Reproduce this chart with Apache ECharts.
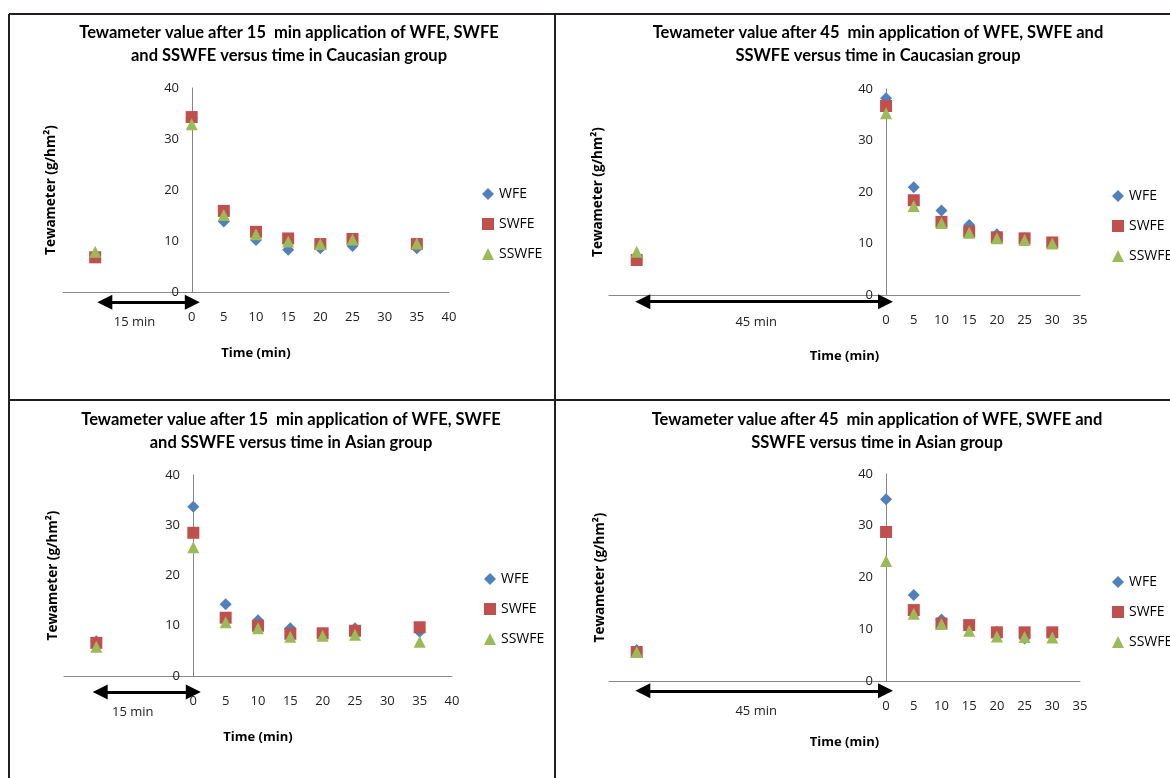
<!DOCTYPE html>
<html><head><meta charset="utf-8">
<script src="https://cdn.jsdelivr.net/npm/echarts@6/dist/echarts.min.js"></script>
<style>html,body{margin:0;padding:0;background:#fff}#c{width:1170px;height:778px}</style>
</head><body><div id="c"></div>
<script>
// ---- data ----
const seriesNames = ['WFE', 'SWFE', 'SSWFE'];
const times15 = [-15, 0, 5, 10, 15, 20, 25, 35];
const times45 = [-45, 0, 5, 10, 15, 20, 25, 30];

const cau15WFE   = [7.2, 34.0, 13.8, 10.2, 8.3, 8.6, 9.0, 8.6];
const cau15SWFE  = [6.8, 34.3, 15.9, 11.8, 10.5, 9.4, 10.4, 9.4];
const cau15SSWFE = [7.9, 32.9, 15.1, 11.3, 9.9, 9.4, 10.3, 9.5];

const cau45WFE   = [7.5, 38.2, 20.9, 16.4, 13.6, 11.8, 11.0, 10.2];
const cau45SWFE  = [6.8, 36.7, 18.4, 14.2, 12.3, 11.2, 11.0, 10.2];
const cau45SSWFE = [8.4, 35.3, 17.3, 14.0, 12.1, 11.0, 10.7, 10.0];

const asi15WFE   = [6.9, 33.7, 14.3, 11.1, 9.5, 8.3, 9.5, 8.8];
const asi15SWFE  = [6.6, 28.5, 11.6, 10.0, 8.4, 8.5, 9.0, 9.7];
const asi15SSWFE = [5.8, 25.6, 10.7, 9.5, 7.8, 8.0, 8.2, 6.8];

const asi45WFE   = [6.0, 35.1, 16.6, 11.9, 10.5, 9.5, 8.2, 8.8];
const asi45SWFE  = [5.6, 28.8, 13.7, 11.1, 10.8, 9.4, 9.4, 9.4];
const asi45SSWFE = [5.6, 23.2, 13.0, 11.0, 9.7, 8.6, 8.5, 8.4];

const titles = [
  'Tewameter value after 15  min application of WFE, SWFE\nand SSWFE versus time in Caucasian group',
  'Tewameter value after 45  min application of WFE, SWFE and\nSSWFE versus time in Caucasian group',
  'Tewameter value after 15  min application of WFE, SWFE\nand SSWFE versus time in Asian group',
  'Tewameter value after 45  min application of WFE, SWFE and\nSSWFE versus time in Asian group'
];
const durationLabels = ['15 min', '45 min', '15 min', '45 min'];
const xAxisName = 'Time (min)';
const yAxisName = 'Tewameter (g/hm\u00B2)';
const xMins = [-20, -50, -20, -50];
const xMaxs = [40, 35, 40, 35];
const yMin = 0, yMax = 40, yStep = 10, xStep = 5;

// ---- panel layout ----
const panels = [
  {times: times15, vals: [cau15WFE, cau15SWFE, cau15SSWFE],
   grid: {left: 63, top: 88, width: 386, height: 204}, titleX: 289, titleY: 21,
   yOffset: -129, yGap: 134, legend: {left: 482, top: 187},
   arrow: {from: -13.5, to: 0.1, y: -2.0, offset: [-14, 0]}},
  {times: times45, vals: [cau45WFE, cau45SWFE, cau45SSWFE],
   grid: {left: 609, top: 89, width: 471, height: 206}, titleX: 878, titleY: 21,
   yOffset: -277, yGap: 281, legend: {left: 1112, top: 189},
   arrow: {from: -43.9, to: -0.1, y: -1.3, offset: [-8, 0]}},
  {times: times15, vals: [asi15WFE, asi15SWFE, asi15SSWFE],
   grid: {left: 64, top: 475, width: 388, height: 201}, titleX: 291, titleY: 408,
   yOffset: -129, yGap: 133, legend: {left: 484, top: 572},
   arrow: {from: -14.4, to: 0.0, y: -3.2, offset: [-14, 0]}},
  {times: times45, vals: [asi45WFE, asi45SWFE, asi45SSWFE],
   grid: {left: 609, top: 474, width: 471, height: 207}, titleX: 877, titleY: 408,
   yOffset: -277, yGap: 279, legend: {left: 1112, top: 575},
   arrow: {from: -43.9, to: -0.1, y: -1.9, offset: [-8, 0]}}
];

const colors = ['#4F81BD', '#C0504D', '#9BBB59'];
const symbols = ['diamond', 'rect', 'triangle'];
const symbolSizes = [12, 12, 12];
const txt = '#222';
const baseFont = 'Open Sans';
const titleFont = 'Lato';

const option = {
  backgroundColor: '#fff',
  animation: false,
  title: [], grid: [], xAxis: [], yAxis: [], legend: [], series: [],
  graphic: [
    {type: 'line', shape: {x1: 9, y1: 14, x2: 1170, y2: 14}, style: {stroke: '#231f20', lineWidth: 2}},
    {type: 'line', shape: {x1: 9, y1: 400, x2: 1170, y2: 400}, style: {stroke: '#231f20', lineWidth: 2}},
    {type: 'line', shape: {x1: 9, y1: 14, x2: 9, y2: 778}, style: {stroke: '#231f20', lineWidth: 2}},
    {type: 'line', shape: {x1: 555, y1: 14, x2: 555, y2: 778}, style: {stroke: '#231f20', lineWidth: 2}}
  ]
};

panels.forEach((p, i) => {
  option.title.push({
    text: titles[i], left: p.titleX, top: p.titleY, textAlign: 'center', padding: 0,
    textStyle: {fontFamily: titleFont, fontWeight: 'bold', fontSize: 16.5, lineHeight: 23, color: '#000'}
  });
  option.grid.push(Object.assign({outerBoundsMode: 'none', containLabel: false}, p.grid));
  option.xAxis.push({
    type: 'value', gridIndex: i, min: xMins[i], max: xMaxs[i], interval: xStep,
    name: xAxisName, nameLocation: 'middle', nameGap: 55,
    nameTextStyle: {fontFamily: baseFont, fontWeight: 'bold', fontSize: 13, color: '#000'},
    axisLine: {onZero: false, lineStyle: {color: '#868686', width: 1}},
    axisTick: {show: false}, splitLine: {show: false},
    axisLabel: {margin: 19, fontFamily: baseFont, fontSize: 13, color: txt,
      formatter: v => (v < 0 ? '' : String(v))}
  });
  option.yAxis.push({
    type: 'value', gridIndex: i, min: yMin, max: yMax, interval: yStep,
    position: 'left', offset: p.yOffset,
    name: yAxisName, nameLocation: 'middle', nameGap: p.yGap, nameRotate: 90,
    nameTextStyle: {fontFamily: baseFont, fontWeight: 'bold', fontSize: 13.5, color: '#000'},
    axisLine: {show: true, onZero: false, lineStyle: {color: '#868686', width: 1}},
    axisTick: {show: false}, splitLine: {show: false},
    axisLabel: {margin: 13, fontFamily: baseFont, fontSize: 13, color: txt}
  });
  option.legend.push({
    orient: 'vertical', left: p.legend.left, top: p.legend.top, padding: 0,
    itemWidth: 12, itemHeight: 12, itemGap: 16, selectedMode: false,
    textStyle: {fontFamily: baseFont, fontSize: 14, color: '#000'},
    data: seriesNames.map((n, k) => ({name: n, icon: symbols[k]}))
  });
  seriesNames.forEach((n, k) => {
    option.series.push({
      type: 'scatter', name: n, xAxisIndex: i, yAxisIndex: i,
      symbol: symbols[k], symbolSize: symbolSizes[k],
      itemStyle: {color: colors[k], opacity: 1},
      data: p.times.map((t, j) => [t, p.vals[k][j]])
    });
  });
  option.series.push({
    type: 'lines', name: 'arrow' + i, coordinateSystem: 'cartesian2d',
    xAxisIndex: i, yAxisIndex: i, clip: false, silent: true,
    symbol: ['triangle', 'triangle'], symbolSize: [15, 15],
    lineStyle: {color: '#000', width: 3, opacity: 1, curveness: 0},
    label: {show: true, position: 'insideMiddleBottom', distance: 14,
      formatter: durationLabels[i], offset: p.arrow.offset,
      fontFamily: baseFont, fontSize: 13, color: txt},
    data: [{coords: [[p.arrow.from, p.arrow.y], [p.arrow.to, p.arrow.y]]}]
  });
});

const chart = echarts.init(document.getElementById('c'), null, {renderer: 'canvas'});
chart.setOption(option);
</script>
</body></html>
